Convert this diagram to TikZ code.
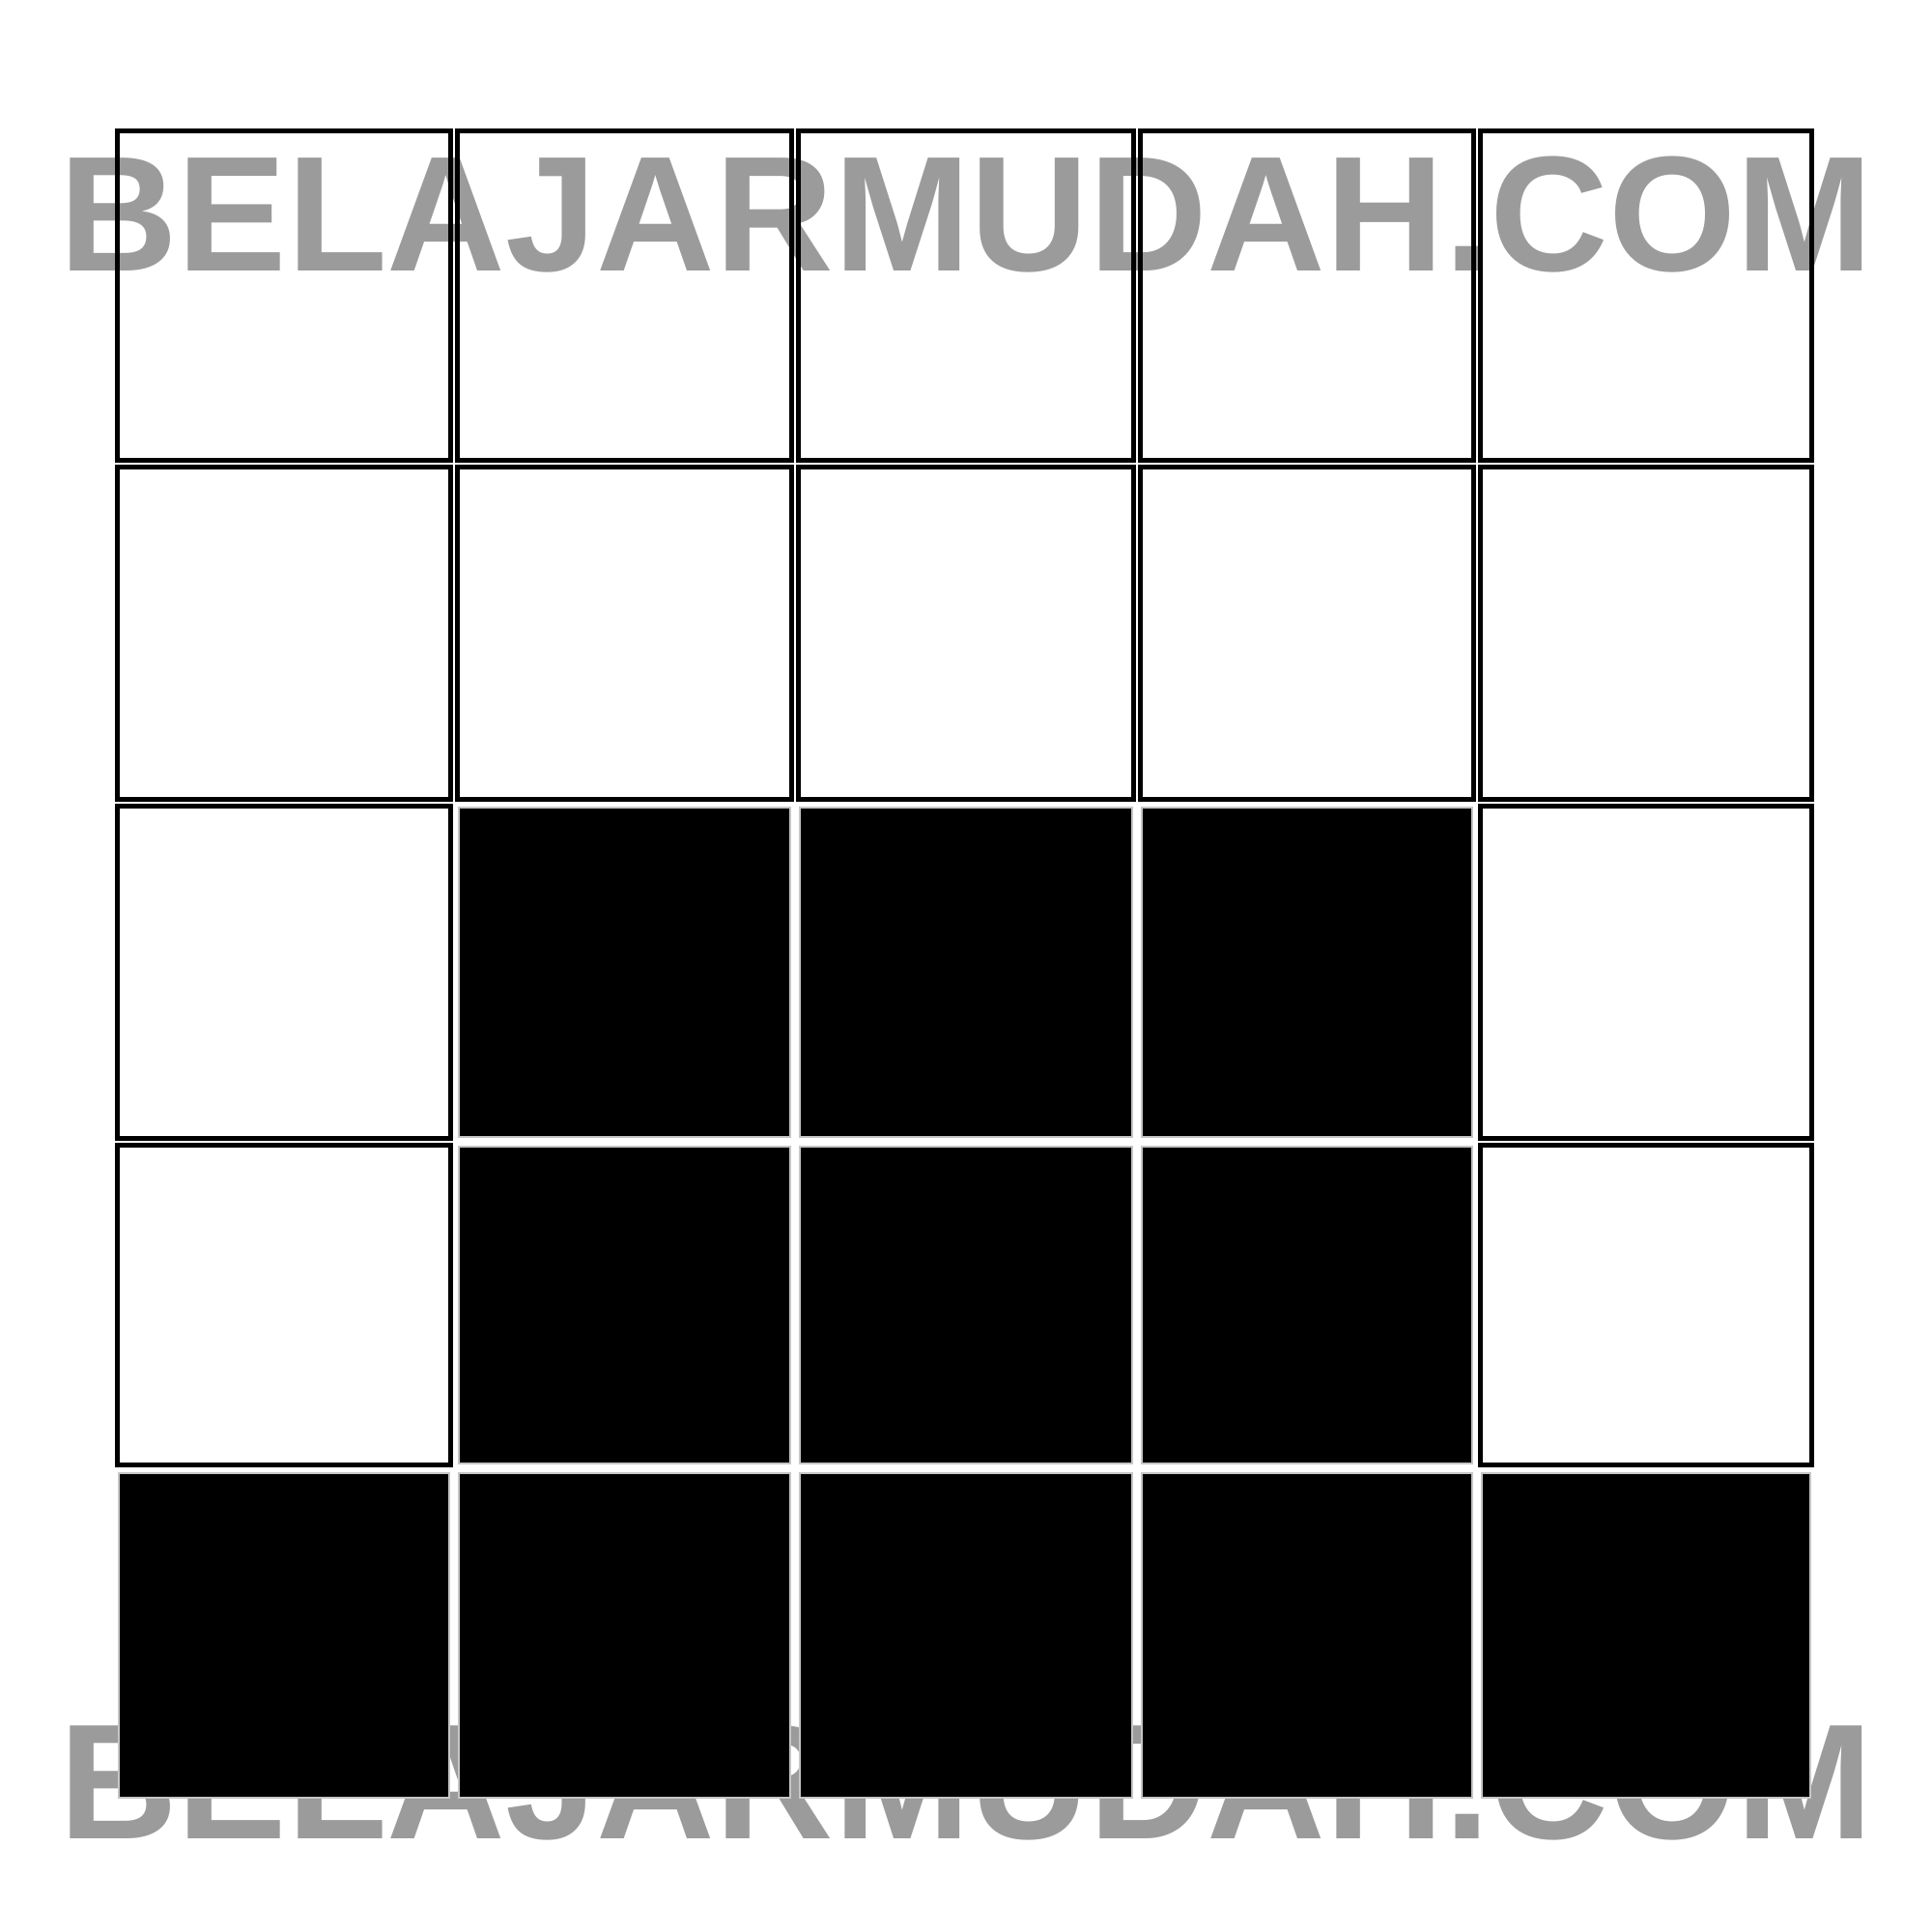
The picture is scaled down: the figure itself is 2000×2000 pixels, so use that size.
\documentclass[tikz,border=0pt]{standalone}
\usepackage{fontspec}
\setmainfont{Liberation Sans}
\usepackage{tikz}
\definecolor{wmgray}{RGB}{155,155,155}

\begin{document}
\begin{tikzpicture}[x=0.01cm, y=-0.01cm,
  wm/.style={font=\bfseries\fontsize{48.3}{48.3}\selectfont, text=wmgray, inner sep=0pt, anchor=base},
  cellw/.style={draw=black, line width=1.5pt},
  cellb/.style={fill=black, draw=gray!45, line width=0.3pt}
]
\useasboundingbox (0,0) rectangle (2000,2000);

% watermark (under the grid)
\node[wm] (wmtop) at (1000,281) {BELAJARMUDAH.COM};
\node[wm] (wmbot) at (1000,1903) {BELAJARMUDAH.COM};

% white cells, rows 1-2
\foreach \xa/\xb in {118/470, 470/823, 823/1177, 1177/1529, 1529/1879}
  \foreach \ya/\yb in {132/480, 480/831}
    \draw[cellw] (\xa+3.2,\ya+3.2) rectangle (\xb-3.2,\yb-3.2);

% white cells, rows 3-4 at the sides
\foreach \xa/\xb in {118/470, 1529/1879}
  \foreach \ya/\yb in {831/1182, 1182/1520}
    \draw[cellw] (\xa+3.2,\ya+3.2) rectangle (\xb-3.2,\yb-3.2);

% black cells, rows 3-4 in the middle
\foreach \xa/\xb in {470/823, 823/1177, 1177/1529}
  \foreach \ya/\yb in {831/1182, 1182/1520}
    \draw[cellb] (\xa+5,\ya+5) rectangle (\xb-5,\yb-5);

% black cells, row 5
\foreach \xa/\xb in {118/470, 470/823, 823/1177, 1177/1529, 1529/1879}
  \draw[cellb] (\xa+5,1520+5) rectangle (\xb-5,1866-5);
\end{tikzpicture}
\end{document}
